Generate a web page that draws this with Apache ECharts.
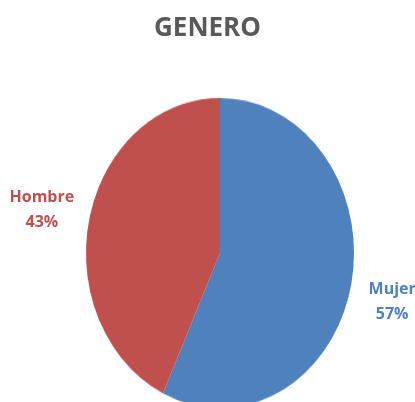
<!DOCTYPE html>
<html>
<head>
<meta charset="utf-8">
<script src="https://cdn.jsdelivr.net/npm/echarts@6/dist/echarts.min.js"></script>
<style>
  html, body { margin: 0; padding: 0; background: #ffffff; }
  #wrap { position: relative; width: 415px; height: 402px; overflow: hidden; }
  #pie { position: absolute; left: 0; top: 0; width: 415px; height: 402px;
         transform: scaleY(1.157); transform-origin: 220px 253px; }
  #txt { position: absolute; left: 0; top: 0; width: 415px; height: 402px; }
</style>
</head>
<body>
<div id="wrap">
  <div id="pie"></div>
  <div id="txt"></div>
</div>
<script>
const titleText = 'GENERO';
const categories = ['Mujer', 'Hombre'];
const values = [57, 43];
const colors = ['#4F81BD', '#C0504D'];
const labelColors = ['#4F81BD', '#C0504D'];

const pieData = categories.map((c, i) => ({ name: c, value: values[i], itemStyle: { color: colors[i] } }));
const labelData = categories.map((c, i) => ({
  name: c, value: values[i],
  itemStyle: { color: 'rgba(0,0,0,0)' },
  label: { color: labelColors[i] }
}));

const pieChart = echarts.init(document.getElementById('pie'), null, { renderer: 'canvas' });
pieChart.setOption({
  animation: false,
  series: [{
    type: 'pie',
    center: [220, 253],
    radius: 134,
    startAngle: 90,
    clockwise: true,
    label: { show: false },
    labelLine: { show: false },
    itemStyle: { borderWidth: 0 },
    silent: true,
    data: pieData
  }]
});

const txtChart = echarts.init(document.getElementById('txt'), null, { renderer: 'canvas' });
txtChart.setOption({
  animation: false,
  backgroundColor: 'transparent',
  title: {
    text: titleText,
    left: 'center',
    top: 11,
    textStyle: { fontFamily: 'Open Sans', fontWeight: 'bold', fontSize: 26, color: '#595959' }
  },
  series: [{
    type: 'pie',
    center: [217, 256],
    radius: [170, 186],
    startAngle: 88,
    clockwise: true,
    percentPrecision: 0,
    silent: true,
    labelLine: { show: false },
    label: {
      show: true,
      position: 'inside',
      formatter: '{b}\n{d}%',
      fontFamily: 'Open Sans',
      fontWeight: 'bold',
      fontSize: 16,
      lineHeight: 25,
      align: 'center',
      textBorderWidth: 0
    },
    data: labelData
  }]
});
</script>
</body>
</html>
